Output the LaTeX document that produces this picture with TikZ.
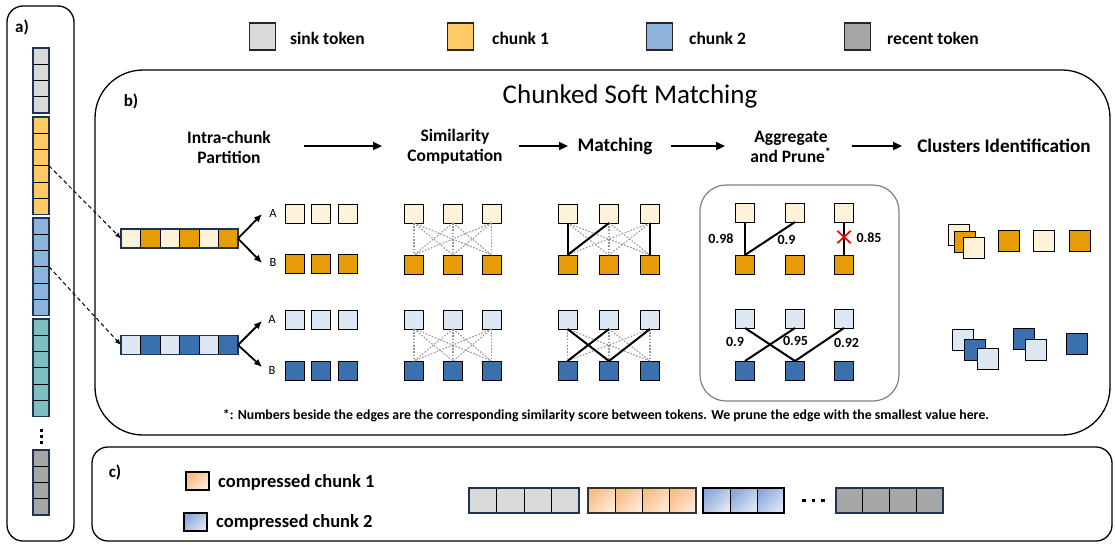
\documentclass[tikz,border=0pt]{standalone}
\usepackage{fontspec}
\setmainfont{Carlito}
\usetikzlibrary{arrows.meta,calc}
\definecolor{sinkc}{RGB}{217,217,217}
\definecolor{chA}{RGB}{255,201,102}
\definecolor{chB}{RGB}{141,179,220}
\definecolor{tealc}{RGB}{126,190,190}
\definecolor{recentc}{RGB}{166,166,166}
\definecolor{navy}{RGB}{31,49,84}
\definecolor{cream}{RGB}{255,242,217}
\definecolor{dorange}{RGB}{229,156,8}
\definecolor{lblue}{RGB}{222,232,244}
\definecolor{dblue}{RGB}{58,112,174}
\definecolor{dotgray}{RGB}{150,150,150}
\definecolor{boxgray}{RGB}{128,128,128}
\definecolor{peachA}{RGB}{249,188,130}
\definecolor{peachB}{RGB}{254,232,214}
\definecolor{bluA}{RGB}{140,168,218}
\definecolor{bluB}{RGB}{222,230,244}
\newcommand\trow[6]{%
  \node[btok,fill=#6] (#1-1) at (#2,#5) {};
  \node[btok,fill=#6] (#1-2) at (#3,#5) {};
  \node[btok,fill=#6] (#1-3) at (#4,#5) {};}
\begin{document}
\begin{tikzpicture}[x=1pt,y=-1pt,
  panel/.style={draw=black, line width=1.3pt},
  atok/.style={draw=black, line width=0.8pt, minimum width=16pt, minimum height=16.25pt, inner sep=0pt, outer sep=0pt},
  grp/.style={draw=navy, line width=1.5pt},
  ptok/.style={draw=black, line width=0.8pt, minimum width=19.5pt, minimum height=19pt, inner sep=0pt, outer sep=0pt},
  btok/.style={draw=black, line width=1pt, minimum size=19pt, inner sep=0pt, outer sep=0pt},
  ctk/.style={draw=black, line width=1pt, minimum size=21pt, inner sep=0pt},
  ctok/.style={draw=black, line width=0.8pt, minimum width=27pt, minimum height=25pt, inner sep=0pt, outer sep=0pt},
  legbox/.style={draw=black!85, line width=1.3pt, minimum width=26pt, minimum height=27pt, inner sep=0pt},
  cleg/.style={draw=black, line width=1.2pt, minimum width=23pt, minimum height=18pt, inner sep=0pt},
  ltxt/.style={font=\fontsize{17.5}{20}\selectfont\bfseries, inner sep=0pt, anchor=west},
  cltxt/.style={font=\fontsize{18.5}{20}\selectfont\bfseries, inner sep=0pt, anchor=west},
  hdr/.style={font=\fontsize{17.5}{20}\selectfont\bfseries, align=center, inner sep=0pt},
  hdrb/.style={font=\fontsize{19.2}{20}\selectfont\bfseries, align=center, inner sep=0pt},
  lab/.style={font=\fontsize{17}{20}\selectfont\bfseries, inner sep=0pt},
  abl/.style={font=\fontsize{12.5}{14}\selectfont, inner sep=0pt},
  num/.style={font=\fontsize{14}{16}\selectfont\bfseries, inner sep=0pt},
  dotl/.style={draw=dotgray, line width=1.1pt, dash pattern=on 1.6pt off 1.6pt},
  mline/.style={draw=black, line width=2pt},
  dasharrow/.style={draw=black, line width=1pt, dash pattern=on 4pt off 3pt, -{Latex[length=6pt,width=5pt]}},
  sarrow/.style={draw=black, line width=1.8pt, -{Latex[length=8pt,width=7pt]}},
  harrow/.style={draw=black, line width=2.2pt, -{Triangle[length=9pt,width=8pt]}},
  dotsq/.style={fill=black, minimum size=3pt, inner sep=0pt},
]
\useasboundingbox (0,0) rectangle (1115,544);

% ---------- panels ----------
\draw[panel, rounded corners=16pt] (7,6) rectangle (74,541);
\draw[panel, rounded corners=48pt] (95,70) rectangle (1110,435);
\draw[panel, rounded corners=16pt] (92,447) rectangle (1112,541);

% ---------- legend ----------
\node[legbox, fill=sinkc] (L1) at (262.5,36.5) {};
\node[ltxt] (L1t) at (290,38) {sink token};
\node[legbox, fill=chA] (L2) at (460.5,36.5) {};
\node[ltxt] (L2t) at (492,38) {chunk 1};
\node[legbox, fill=chB] (L3) at (659.5,36.5) {};
\node[ltxt] (L3t) at (689,38) {chunk 2};
\node[legbox, fill=recentc] (L4) at (857.5,36.5) {};
\node[ltxt] (L4t) at (887,38) {recent token};

% ---------- panel a ----------
\node[lab] (la) at (22,27) {a)};
\foreach \i in {0,...,3} \node[atok, fill=sinkc] (s\i) at (41,{56.125+16.25*\i}) {};
\draw[grp] (s0.north west) rectangle (s3.south east);
\foreach \i in {0,...,5} \node[atok, fill=chA] (ca\i) at (41,{125.125+16.25*\i}) {};
\draw[grp] (ca0.north west) rectangle (ca5.south east);
\foreach \i in {0,...,5} \node[atok, fill=chB] (cb\i) at (41,{226.125+16.25*\i}) {};
\draw[grp] (cb0.north west) rectangle (cb5.south east);
\foreach \i in {0,...,5} \node[atok, fill=tealc] (ct\i) at (41,{327.125+16.25*\i}) {};
\draw[grp] (ct0.north west) rectangle (ct5.south east);
\node[dotsq] (ad1) at (41,430) {};
\node[dotsq] (ad2) at (41,436) {};
\node[dotsq] (ad3) at (41,442) {};
\foreach \i in {0,...,3} \node[atok, fill=recentc] (cr\i) at (41,{458.125+16.25*\i}) {};
\draw[grp] (cr0.north west) rectangle (cr3.south east);

% ---------- panel b : titles ----------
\node[lab] (lb) at (131,101) {b)};
\node[font=\fontsize{27}{30}\selectfont, inner sep=0pt] (tt) at (630,96) {Chunked Soft Matching};
\node[hdr] (h1) at (229,147) {Intra-chunk\\Partition};
\node[hdr] (h2) at (455,147) {Similarity\\Computation};
\node[hdrb] (h3) at (615,146) {Matching};
\node[hdr] (h4) at (791,147) {Aggregate\\and Prune\textsuperscript{*}};
\node[hdrb] (h5) at (1004,146) {Clusters Identification};
\coordinate (a1s) at (304,146); \coordinate (a1e) at (382,146);
\coordinate (a2s) at (519,146); \coordinate (a2e) at (568,146);
\coordinate (a3s) at (671,146); \coordinate (a3e) at (725,146);
\coordinate (a4s) at (852,146); \coordinate (a4e) at (902,146);
\draw[harrow] (a1s) -- (a1e);
\draw[harrow] (a2s) -- (a2e);
\draw[harrow] (a3s) -- (a3e);
\draw[harrow] (a4s) -- (a4e);

% ---------- partition bars ----------
\foreach \i/\c in {0/cream,1/dorange,2/cream,3/dorange,4/cream,5/dorange}
  \node[ptok, fill=\c] (pa\i) at ({130.75+19.5*\i},238.5) {};
\draw[grp] (pa0.north west) rectangle (pa5.south east);
\foreach \i/\c in {0/lblue,1/dblue,2/lblue,3/dblue,4/lblue,5/dblue}
  \node[ptok, fill=\c] (pb\i) at ({130.75+19.5*\i},345) {};
\draw[grp] (pb0.north west) rectangle (pb5.south east);

\draw[dasharrow] (ca2.south east) -- (pa0.west);
\draw[dasharrow] (cb2.south east) -- (pb0.west);

\coordinate (pA1) at (262,214); \coordinate (pB1) at (262,263);
\coordinate (pA2) at (262,321); \coordinate (pB2) at (262,367);
\draw[sarrow] (pa5.east) -- (pA1);
\draw[sarrow] (pa5.east) -- (pB1);
\draw[sarrow] (pb5.east) -- (pA2);
\draw[sarrow] (pb5.east) -- (pB2);
\node[abl] (lA1) at (273,213) {A};
\node[abl] (lB1) at (273,262) {B};
\node[abl] (lA2) at (272,319) {A};
\node[abl] (lB2) at (272,370) {B};

% ---------- token rows ----------
\trow{PA1}{294.5}{321}{347.5}{213.5}{cream}
\trow{PB1}{294.5}{321}{347.5}{264}{dorange}
\trow{PA2}{294.5}{321}{347.5}{319.5}{lblue}
\trow{PB2}{294.5}{321}{347.5}{370.5}{dblue}

% similarity
\trow{SA1}{414}{453}{491.5}{213.5}{cream}
\trow{SB1}{414}{453}{491.5}{264.5}{dorange}
\trow{SA2}{414}{453}{491.5}{319.5}{lblue}
\trow{SB2}{414}{453}{491.5}{370.5}{dblue}
\foreach \r in {1,2} \foreach \i in {1,2,3} \foreach \j in {1,2,3}
  \draw[dotl] (SA\r-\i.south) -- (SB\r-\j.north);

% matching
\trow{MA1}{567.5}{609}{650}{213.5}{cream}
\trow{MB1}{567.5}{609}{650}{264.5}{dorange}
\trow{MA2}{567.5}{609}{650}{319.5}{lblue}
\trow{MB2}{567.5}{609}{650}{370.5}{dblue}
\foreach \r in {1,2} \foreach \i in {1,2,3} \foreach \j in {1,2,3}
  \draw[dotl] (MA\r-\i.south) -- (MB\r-\j.north);
\draw[mline] (MA1-1.south) -- (MB1-1.north);
\draw[mline] (MA1-2.south) -- (MB1-1.north);
\draw[mline] (MA1-3.south) -- (MB1-3.north);
\draw[mline] (MA2-1.south) -- (MB2-2.north);
\draw[mline] (MA2-2.south) -- (MB2-1.north);
\draw[mline] (MA2-3.south) -- (MB2-2.north);

% aggregate and prune
\draw[draw=boxgray, line width=1.2pt, rounded corners=26pt] (700,185) rectangle (899,401);
\trow{GA1}{745}{795}{844}{212.5}{cream}
\trow{GB1}{745}{795}{844}{264.5}{dorange}
\trow{GA2}{745}{795}{844}{318.5}{lblue}
\trow{GB2}{745}{795}{844}{370.5}{dblue}
\draw[mline] (GA1-1.south) -- (GB1-1.north);
\draw[mline] (GA1-2.south) -- (GB1-1.north);
\draw[mline] (GA1-3.south) -- (GB1-3.north);
\draw[mline] (GA2-1.south) -- (GB2-2.north);
\draw[mline] (GA2-2.south) -- (GB2-1.north);
\draw[mline] (GA2-3.south) -- (GB2-2.north);
\node[minimum width=13pt, minimum height=12pt, inner sep=0pt] (xm) at (844,237) {};
\draw[red, line width=1.7pt] (xm.north west) -- (xm.south east);
\draw[red, line width=1.7pt] (xm.north east) -- (xm.south west);
\node[num] (n1) at (721,239) {0.98};
\node[num] (n2) at (786.5,240) {0.9};
\node[num] (n3) at (869,238) {0.85};
\node[num] (n4) at (735,342) {0.9};
\node[num] (n5) at (795.5,341) {0.95};
\node[num] (n6) at (846.5,343) {0.92};

% clusters
\node[ctk, fill=cream] (K1) at (958.5,234.5) {};
\node[ctk, fill=dorange] (K2) at (965,241.5) {};
\node[ctk, fill=cream] (K3) at (973.5,248) {};
\node[ctk, fill=dorange] (K4) at (1008.5,241) {};
\node[ctk, fill=cream] (K5) at (1043.5,241) {};
\node[ctk, fill=dorange] (K6) at (1080,241) {};
\node[ctk, fill=lblue] (Q1) at (963,339.5) {};
\node[ctk, fill=dblue] (Q2) at (974.5,350) {};
\node[ctk, fill=lblue] (Q3) at (987.5,358.5) {};
\node[ctk, fill=dblue] (Q4) at (1023.5,338.5) {};
\node[ctk, fill=lblue] (Q5) at (1036,349.5) {};
\node[ctk, fill=dblue] (Q6) at (1076.5,344) {};

\node[font=\fontsize{13.8}{15}\selectfont\bfseries, inner sep=0pt] (fn) at (606,416)
  {*: Numbers beside the edges are the corresponding similarity score between tokens. We prune the edge with the smallest value here.};

% ---------- panel c ----------
\node[lab] (lc) at (115,472) {c)};
\node[cleg, top color=peachA, bottom color=peachB, shading angle=45] (C1) at (197.5,481) {};
\node[cltxt] (C1t) at (218,482) {compressed chunk 1};
\node[cleg, top color=bluA, bottom color=bluB, shading angle=45] (C2) at (195.5,522) {};
\node[cltxt] (C2t) at (216,522) {compressed chunk 2};

\foreach \i in {0,...,3} \node[ctok, minimum width=27.5pt, fill=sinkc] (g\i) at ({482.75+27.5*\i},500.5) {};
\draw[grp] (g0.north west) rectangle (g3.south east);
\foreach \i in {0,...,3} \node[ctok, top color=peachA, bottom color=peachB, shading angle=45] (o\i) at ({601.5+27*\i},500.5) {};
\draw[draw=black!80, line width=1.2pt] (o0.north west) rectangle (o3.south east);
\foreach \i in {0,...,2} \node[ctok, top color=bluA, bottom color=bluB, shading angle=45] (u\i) at ({716.5+27*\i},500.5) {};
\draw[draw=black, line width=1.2pt] (u0.north west) rectangle (u2.south east);
\node[dotsq, minimum size=3.5pt] (cd1) at (804,500.5) {};
\node[dotsq, minimum size=3.5pt] (cd2) at (813.5,500.5) {};
\node[dotsq, minimum size=3.5pt] (cd3) at (823,500.5) {};
\foreach \i in {0,...,3} \node[ctok, minimum width=26.75pt, fill=recentc] (r\i) at ({849.4+26.75*\i},500.5) {};
\draw[grp] (r0.north west) rectangle (r3.south east);
\end{tikzpicture}
\end{document}
